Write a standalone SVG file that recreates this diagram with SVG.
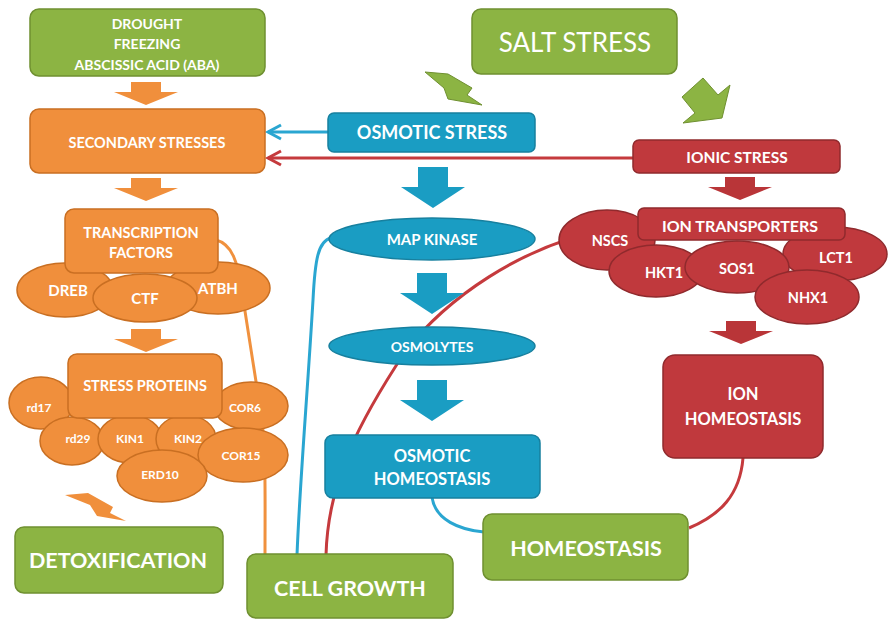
<svg xmlns="http://www.w3.org/2000/svg" width="889" height="621" viewBox="0 0 889 621">
  <defs>
    <style>
      text { font-family: Lato, "Open Sans", "Liberation Sans", sans-serif; font-weight: 700; fill: #ffffff; text-anchor: middle; dominant-baseline: central; }
      text.light { font-weight: 400; }
      .green { fill: #8cb443; stroke: #6f9030; stroke-width: 1.5; }
      .orange { fill: #f08f3c; stroke: #c96f22; stroke-width: 1.5; }
      .blue { fill: #1a9dc3; stroke: #17809f; stroke-width: 1.5; }
      .red { fill: #c0393d; stroke: #902a2d; stroke-width: 1.5; }
      .fo { fill: #f08f3c; }
      .fg { fill: #8cb443; stroke: #6f9030; stroke-width: 1; }
      .fb { fill: #1a9dc3; }
      .fr { fill: #b93538; }
      .cb { fill: none; stroke: #2aa6d1; stroke-width: 3; }
      .cr { fill: none; stroke: #c53a3d; stroke-width: 3; }
      .co { fill: none; stroke: #f0913e; stroke-width: 3; }
    </style>
    <!-- block arrow pointing down, centred on x=0, top at y=0 -->
    <path id="downS" d="M-15,0 H15 V10 H32 L0,23 L-32,10 H-15 Z"/>
    <path id="downB" d="M-15,0 H15 V20 H32 L0,41 L-32,20 H-15 Z"/>
  </defs>

  <!-- connectors -->
  <g id="connectors">
    <path class="co" d="M216,240 C232,244 238,262 242,292 L262,420 C266,460 265,500 265,555"/>
    <path class="cb" d="M331,238 C318,241 315,260 313,300 C307,400 300,480 297,555"/>
    <path class="cr" d="M612,228 C520,245 445,300 405,352 C360,420 328,480 326,555"/>
    <path class="cb" d="M432,497 C435,520 460,530 484,532"/>
    <path class="cr" d="M743,458 C740,495 720,515 689,528"/>
    <line class="cb" x1="329" y1="132" x2="268" y2="132"/>
    <polyline class="cb" points="281,125 268,132 281,139"/>
    <line class="cr" x1="634" y1="158" x2="268" y2="158"/>
    <polyline class="cr" points="281,151 268,158 281,165"/>
  </g>

  <!-- flow arrows -->
  <g id="flow-arrows">
    <use href="#downS" class="fo" x="146" y="82"/>
    <use href="#downS" class="fo" x="146" y="178"/>
    <use href="#downS" class="fo" x="146" y="329"/>
    <polygon class="fo" points="65,495 88,493 113,507 110,513 126,521 97,516 90,505"/>
    <use href="#downB" class="fb" x="433" y="167"/>
    <use href="#downB" class="fb" x="432" y="273"/>
    <use href="#downB" class="fb" x="432" y="380"/>
    <use href="#downS" class="fr" x="740" y="177"/>
    <use href="#downS" class="fr" x="741" y="321"/>
    <polygon class="fg" points="425,72 448,74 472,88 467,95 482,105 448,99 444,88"/>
    <polygon class="fg" points="703,78 718,95 730,85 722,118 683,123 695,113 682,97"/>
  </g>

  <!-- left column -->
  <g id="drought">
    <rect class="green" x="30" y="9" width="235" height="67" rx="9"/>
    <text x="147" y="23" font-size="14">DROUGHT</text>
    <text x="147" y="43" font-size="14">FREEZING</text>
    <text x="147" y="64" font-size="14">ABSCISSIC ACID (ABA)</text>
  </g>
  <g id="secondary-stresses">
    <rect class="orange" x="30" y="109" width="235" height="64" rx="9"/>
    <text x="147" y="142" font-size="14.5">SECONDARY STRESSES</text>
  </g>
  <g id="transcription-factors">
    <ellipse class="orange" cx="65" cy="290" rx="48" ry="27"/>
    <ellipse class="orange" cx="218" cy="288" rx="52" ry="26"/>
    <rect class="orange" x="65" y="209" width="153" height="64" rx="9"/>
    <ellipse class="orange" cx="145" cy="298" rx="52" ry="24"/>
    <text x="141" y="232" font-size="14.5">TRANSCRIPTION</text>
    <text x="141" y="252" font-size="14.5">FACTORS</text>
    <text x="68" y="290" font-size="15">DREB</text>
    <text x="145" y="298" font-size="15">CTF</text>
    <text x="218" y="288" font-size="15">ATBH</text>
  </g>
  <g id="stress-proteins">
    <ellipse class="orange" cx="41" cy="403" rx="32" ry="26"/>
    <ellipse class="orange" cx="251" cy="406" rx="37" ry="24"/>
    <ellipse class="orange" cx="72" cy="441" rx="32" ry="24"/>
    <ellipse class="orange" cx="130" cy="439" rx="32" ry="24"/>
    <ellipse class="orange" cx="186" cy="439" rx="30" ry="24"/>
    <rect class="orange" x="68" y="354" width="154" height="64" rx="9"/>
    <ellipse class="orange" cx="243" cy="455" rx="45" ry="27"/>
    <ellipse class="orange" cx="162" cy="476" rx="45" ry="26"/>
    <text x="145" y="385" font-size="14.5">STRESS PROTEINS</text>
    <text x="39" y="407" font-size="12">rd17</text>
    <text x="245" y="407" font-size="12">COR6</text>
    <text x="78" y="438" font-size="12">rd29</text>
    <text x="130" y="438" font-size="12">KIN1</text>
    <text x="188" y="438" font-size="12">KIN2</text>
    <text x="241" y="455" font-size="12">COR15</text>
    <text x="160" y="474" font-size="12">ERD10</text>
  </g>
  <g id="detoxification">
    <rect class="green" x="15" y="527" width="208" height="66" rx="9"/>
    <text x="118" y="560" font-size="21.5">DETOXIFICATION</text>
  </g>

  <!-- middle column -->
  <g id="salt-stress">
    <rect class="green" x="472" y="9" width="205" height="65" rx="9"/>
    <text class="light" x="575" y="42" font-size="26">SALT STRESS</text>
  </g>
  <g id="osmotic-stress">
    <rect class="blue" x="328" y="113" width="207" height="39" rx="6"/>
    <text x="432" y="132" font-size="18">OSMOTIC STRESS</text>
  </g>
  <g id="map-kinase">
    <ellipse class="blue" cx="432" cy="239" rx="103" ry="21"/>
    <text x="432" y="239" font-size="15">MAP KINASE</text>
  </g>
  <g id="osmolytes">
    <ellipse class="blue" cx="432" cy="346" rx="103" ry="19"/>
    <text x="432" y="346" font-size="14">OSMOLYTES</text>
  </g>
  <g id="osmotic-homeostasis">
    <rect class="blue" x="325" y="435" width="215" height="63" rx="8"/>
    <text x="432" y="456" font-size="16.5">OSMOTIC</text>
    <text x="432" y="479" font-size="16.5">HOMEOSTASIS</text>
  </g>
  <g id="cell-growth">
    <rect class="green" x="247" y="554" width="206" height="64" rx="9"/>
    <text x="350" y="588" font-size="21.5">CELL GROWTH</text>
  </g>
  <g id="homeostasis">
    <rect class="green" x="483" y="514" width="205" height="66" rx="9"/>
    <text x="586" y="548" font-size="21.5">HOMEOSTASIS</text>
  </g>

  <!-- right column -->
  <g id="ionic-stress">
    <rect class="red" x="633" y="140" width="207" height="33" rx="6"/>
    <text x="737" y="157" font-size="15.5">IONIC STRESS</text>
  </g>
  <g id="ion-transporters">
    <ellipse class="red" cx="607" cy="240" rx="48" ry="30"/>
    <ellipse class="red" cx="835" cy="254" rx="52" ry="27"/>
    <rect class="red" x="638" y="208" width="207" height="32" rx="6"/>
    <ellipse class="red" cx="656" cy="271" rx="47" ry="26"/>
    <ellipse class="red" cx="737" cy="267" rx="52" ry="26"/>
    <ellipse class="red" cx="807" cy="297" rx="52" ry="27"/>
    <text x="740" y="225" font-size="16">ION TRANSPORTERS</text>
    <text x="610" y="240" font-size="14.5">NSCS</text>
    <text x="664" y="272" font-size="14.5">HKT1</text>
    <text x="737" y="268" font-size="14.5">SOS1</text>
    <text x="836" y="257" font-size="14.5">LCT1</text>
    <text x="808" y="297" font-size="14.5">NHX1</text>
  </g>
  <g id="ion-homeostasis">
    <rect class="red" x="663" y="355" width="160" height="103" rx="12"/>
    <text x="743" y="394" font-size="16.5">ION</text>
    <text x="743" y="419" font-size="16.5">HOMEOSTASIS</text>
  </g>
</svg>
